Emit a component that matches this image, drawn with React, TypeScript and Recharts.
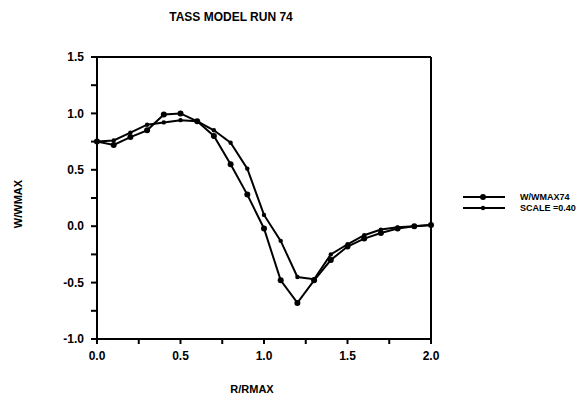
import { LineChart, Line, XAxis, YAxis, ReferenceLine } from "recharts";

const rRmax = [0, 0.1, 0.2, 0.3, 0.4, 0.5, 0.6, 0.7, 0.8, 0.9, 1.0, 1.1, 1.2, 1.3, 1.4, 1.5, 1.6, 1.7, 1.8, 1.9, 2.0];
const wWmax74 = [0.75, 0.72, 0.79, 0.85, 0.99, 1.0, 0.93, 0.8, 0.55, 0.28, -0.02, -0.48, -0.68, -0.48, -0.3, -0.18, -0.11, -0.06, -0.02, 0.0, 0.01];
const scale040 = [0.75, 0.76, 0.83, 0.9, 0.92, 0.94, 0.93, 0.85, 0.74, 0.51, 0.1, -0.13, -0.45, -0.47, -0.25, -0.16, -0.08, -0.03, -0.01, 0.0, 0.01];

const xTicks = [0, 0.25, 0.5, 0.75, 1.0, 1.25, 1.5, 1.75, 2.0];
const yTicks = [-1.0, -0.75, -0.5, -0.25, 0.0, 0.25, 0.5, 0.75, 1.0, 1.25, 1.5];

const SERIES = [
  { key: "wWmax74", name: "W/WMAX74", r: 3 },
  { key: "scale", name: "SCALE =0.40", r: 2.2 },
];

const data = rRmax.map((r, i) => ({ r, wWmax74: wWmax74[i], scale: scale040[i] }));

const FONT = "'Liberation Sans', Arial, sans-serif";
const fmt = (v: number) => (Math.abs((v * 2) % 1) < 1e-9 ? v.toFixed(1) : "");

const LegendBox = () => (
  <div style={{ position: "absolute", left: 462, top: 191, fontFamily: FONT, fontSize: 9, fontWeight: 700 }}>
    {SERIES.map((s) => (
      <div key={s.key} style={{ display: "flex", alignItems: "center", height: 11 }}>
        <svg width={44} height={10}>
          <line x1={1} y1={5} x2={43} y2={5} stroke="#000" strokeWidth={2.2} />
          <circle cx={21} cy={5} r={s.r} fill="#000" />
        </svg>
        <span style={{ marginLeft: 14 }}>{s.name}</span>
      </div>
    ))}
  </div>
);

export default function App() {
  return (
    <div style={{ position: "absolute", left: 0, top: 0, width: 588, height: 403, background: "#fff" }}>
      <div
        style={{
          position: "absolute",
          left: 0,
          width: 462,
          top: 10,
          textAlign: "center",
          fontFamily: FONT,
          fontWeight: 700,
          fontSize: 12,
        }}
      >
        TASS MODEL RUN 74
      </div>
      <div
        style={{
          position: "absolute",
          left: 18,
          top: 204,
          transform: "translate(-50%, -50%) rotate(-90deg)",
          fontFamily: FONT,
          fontWeight: 700,
          fontSize: 11,
        }}
      >
        W/WMAX
      </div>
      <div
        style={{
          position: "absolute",
          left: 252,
          top: 389,
          transform: "translate(-50%, -50%)",
          fontFamily: FONT,
          fontWeight: 700,
          fontSize: 11,
        }}
      >
        R/RMAX
      </div>
      <LineChart width={588} height={403} data={data} margin={{ top: 57, right: 157, bottom: 34, left: 50 }}>
        <XAxis
          dataKey="r"
          type="number"
          domain={[0, 2]}
          ticks={xTicks}
          tickFormatter={fmt}
          interval={0}
          height={30}
          stroke="#000"
          strokeWidth={2}
          tickSize={5}
          tickMargin={7}
          tick={{ fill: "#000", fontSize: 12, fontWeight: 700, fontFamily: FONT }}
        />
        <YAxis
          type="number"
          domain={[-1, 1.5]}
          ticks={yTicks}
          tickFormatter={fmt}
          interval={0}
          width={47}
          stroke="#000"
          strokeWidth={2}
          tickSize={6}
          tickMargin={7}
          tick={{ fill: "#000", fontSize: 12, fontWeight: 700, fontFamily: FONT }}
        />
        <ReferenceLine y={1.5} stroke="#000" strokeWidth={2} />
        <ReferenceLine x={2} stroke="#000" strokeWidth={2} />
        {SERIES.map((s) => (
          <Line
            key={s.key}
            dataKey={s.key}
            name={s.name}
            type="linear"
            stroke="#000"
            strokeWidth={2}
            dot={{ r: s.r, fill: "#000", stroke: "#000", strokeWidth: 0 }}
            isAnimationActive={false}
          />
        ))}
      </LineChart>
      <LegendBox />
    </div>
  );
}
